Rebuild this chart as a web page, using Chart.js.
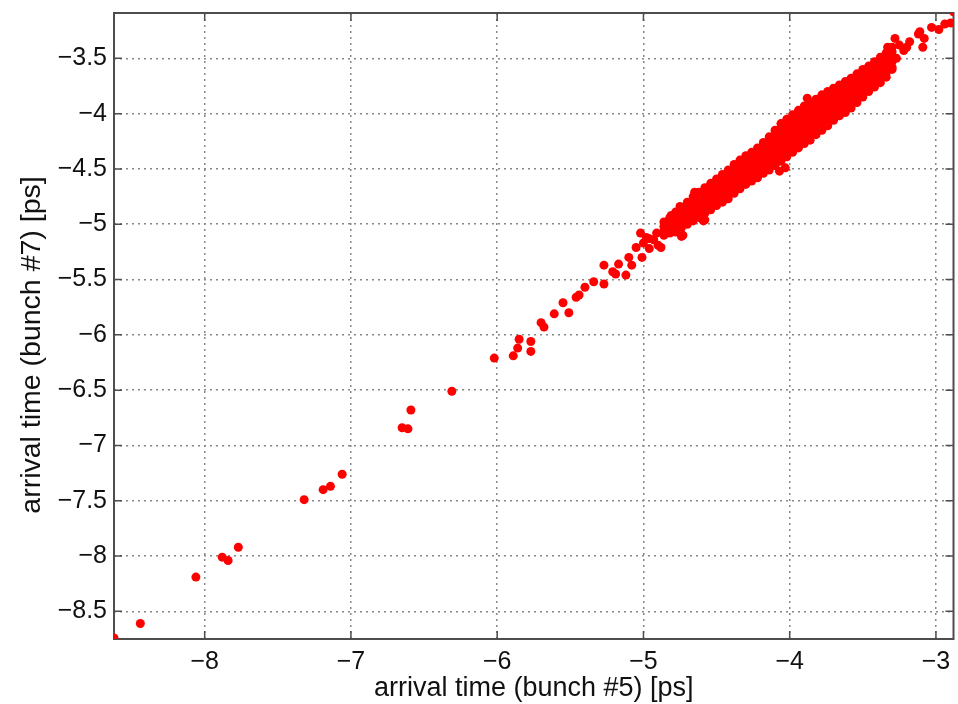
<!DOCTYPE html>
<html>
<head>
<meta charset="utf-8">
<script src="https://cdn.jsdelivr.net/npm/chart.js@4.4.1/dist/chart.umd.min.js"></script>
<style>
  html, body { margin: 0; padding: 0; background: #fff; }
</style>
</head>
<body>
<canvas id="c" width="958" height="704"></canvas>
<script>
// axis ranges and tick values
const xRange = [-8.62, -2.88];
const yRange = [-8.75, -3.09];
const xTicks = [-8, -7, -6, -5, -4, -3];
const yTicks = [-8.5, -8, -7.5, -7, -6.5, -6, -5.5, -5, -4.5, -4, -3.5];
const xLabel = 'arrival time (bunch #5) [ps]';
const yLabel = 'arrival time (bunch #7) [ps]';

// isolated shots below the main cloud [bunch5, bunch7]
const tailPoints = [
  [-8.62, -8.74], [-8.44, -8.61], [-8.06, -8.19], [-7.88, -8.01], [-7.84, -8.04], [-7.77, -7.92],
  [-7.32, -7.49], [-7.19, -7.40], [-7.14, -7.37], [-7.06, -7.26],
  [-6.65, -6.84], [-6.61, -6.85], [-6.59, -6.68], [-6.31, -6.51],
  [-6.02, -6.21], [-5.89, -6.19], [-5.86, -6.12], [-5.85, -6.04], [-5.77, -6.06], [-5.77, -6.15],
  [-5.70, -5.89], [-5.68, -5.93], [-5.61, -5.81], [-5.55, -5.71], [-5.51, -5.80],
  [-5.46, -5.66], [-5.44, -5.64], [-5.40, -5.57], [-5.34, -5.52], [-5.27, -5.54], [-5.27, -5.37],
  [-5.21, -5.43], [-5.19, -5.45], [-5.17, -5.36], [-5.12, -5.46], [-5.10, -5.30], [-5.08, -5.37],
  [-5.05, -5.21], [-5.02, -5.08], [-5.01, -5.30]
];

// dense cloud, read column by column: [bunch5, [bunch7 values]]
const cloudColumns = [
  [-4.86, [-4.98, -5.02, -5.06, -5.10]],
  [-4.82, [-4.94, -4.98, -5.03, -5.08]],
  [-4.78, [-4.89, -4.93, -4.98, -5.02, -5.07]],
  [-4.74, [-4.85, -4.89, -4.94, -4.98, -5.03]],
  [-4.70, [-4.80, -4.84, -4.89, -4.93, -4.98, -5.00]],
  [-4.66, [-4.75, -4.79, -4.84, -4.88, -4.93, -4.97]],
  [-4.62, [-4.71, -4.75, -4.80, -4.84, -4.89, -4.94]],
  [-4.58, [-4.67, -4.71, -4.76, -4.80, -4.85, -4.90]],
  [-4.54, [-4.63, -4.67, -4.72, -4.76, -4.81, -4.87]],
  [-4.50, [-4.59, -4.63, -4.68, -4.72, -4.77, -4.83]],
  [-4.46, [-4.55, -4.59, -4.64, -4.68, -4.73, -4.77, -4.80]],
  [-4.42, [-4.51, -4.55, -4.60, -4.64, -4.69, -4.73, -4.77]],
  [-4.38, [-4.46, -4.50, -4.55, -4.59, -4.64, -4.68, -4.72]],
  [-4.34, [-4.42, -4.46, -4.51, -4.55, -4.60, -4.64, -4.68]],
  [-4.30, [-4.38, -4.42, -4.47, -4.51, -4.56, -4.60, -4.64]],
  [-4.26, [-4.35, -4.39, -4.44, -4.48, -4.53, -4.57, -4.61]],
  [-4.22, [-4.31, -4.35, -4.40, -4.44, -4.49, -4.53, -4.58]],
  [-4.18, [-4.26, -4.30, -4.35, -4.39, -4.44, -4.48, -4.54]],
  [-4.14, [-4.21, -4.25, -4.30, -4.34, -4.39, -4.43, -4.47, -4.51]],
  [-4.10, [-4.15, -4.19, -4.24, -4.28, -4.33, -4.37, -4.42, -4.47]],
  [-4.06, [-4.09, -4.13, -4.18, -4.22, -4.27, -4.31, -4.36, -4.43]],
  [-4.02, [-4.05, -4.09, -4.14, -4.18, -4.23, -4.27, -4.32, -4.36, -4.39]],
  [-3.98, [-4.01, -4.05, -4.10, -4.14, -4.19, -4.23, -4.28, -4.32, -4.35]],
  [-3.94, [-3.97, -4.01, -4.06, -4.10, -4.15, -4.19, -4.24, -4.28, -4.31]],
  [-3.90, [-3.93, -3.97, -4.02, -4.06, -4.11, -4.15, -4.20, -4.24, -4.27]],
  [-3.86, [-3.90, -3.94, -3.99, -4.03, -4.08, -4.12, -4.17, -4.21, -4.24]],
  [-3.82, [-3.87, -3.91, -3.96, -4.00, -4.05, -4.09, -4.14, -4.19]],
  [-3.78, [-3.83, -3.87, -3.92, -3.96, -4.01, -4.05, -4.10, -4.15]],
  [-3.74, [-3.80, -3.84, -3.89, -3.93, -3.98, -4.02, -4.07, -4.11]],
  [-3.70, [-3.77, -3.81, -3.86, -3.90, -3.95, -3.99, -4.04, -4.06]],
  [-3.66, [-3.74, -3.78, -3.83, -3.87, -3.92, -3.96, -4.02]],
  [-3.62, [-3.71, -3.75, -3.80, -3.84, -3.89, -3.93, -3.99]],
  [-3.58, [-3.68, -3.72, -3.77, -3.81, -3.86, -3.90, -3.95]],
  [-3.54, [-3.64, -3.68, -3.73, -3.77, -3.82, -3.86, -3.90]],
  [-3.50, [-3.60, -3.64, -3.69, -3.73, -3.78, -3.82, -3.85]],
  [-3.46, [-3.57, -3.61, -3.66, -3.70, -3.75, -3.80]],
  [-3.42, [-3.53, -3.57, -3.62, -3.66, -3.71, -3.76]],
  [-3.38, [-3.49, -3.53, -3.58, -3.62, -3.67, -3.72]],
  [-3.34, [-3.45, -3.49, -3.54, -3.58, -3.63, -3.67]],
  [-3.30, [-3.40, -3.44, -3.49, -3.53, -3.58, -3.60]]
];

// loose points around the edges of the cloud
const edgePoints = [
  [-5.00, -5.17], [-4.96, -5.22], [-4.93, -5.14], [-4.98, -5.12], [-4.90, -5.19], [-4.96, -5.13],
  [-4.91, -5.08], [-4.88, -5.21], [-4.83, -5.02], [-4.81, -4.92], [-4.75, -4.84], [-4.74, -5.11],
  [-4.73, -5.10], [-4.69, -4.93], [-4.65, -4.71], [-4.59, -4.97], [-4.58, -4.96],
  [-4.07, -4.52], [-4.03, -4.49], [-3.88, -3.86],
  [-3.33, -3.40], [-3.28, -3.32], [-3.27, -3.50], [-3.25, -3.38], [-3.22, -3.43], [-3.20, -3.40],
  [-3.18, -3.35], [-3.12, -3.28], [-3.11, -3.26], [-3.09, -3.40], [-3.08, -3.32], [-3.03, -3.22],
  [-2.98, -3.24], [-2.94, -3.19], [-2.90, -3.18], [-2.88, -3.08]
];

const cloudPoints = [];
cloudColumns.forEach(([x, ys]) => ys.forEach(y => cloudPoints.push([x, y])));
const allPoints = tailPoints.concat(cloudPoints, edgePoints).map(([x, y]) => ({ x, y }));

const FONT = '"Liberation Sans", Arial, Helvetica, sans-serif';
const fmt = v => (v < 0 ? '\u2212' + Math.abs(v) : String(v));

// box around the axes with inward tick marks (matlab style)
const frame = {
  id: 'frame',
  beforeDatasetsDraw(chart) {
    const { ctx, chartArea: a, scales: { x, y } } = chart;
    ctx.save();
    ctx.strokeStyle = '#4d4d4d';
    ctx.lineWidth = 1.5;
    ctx.beginPath();
    x.ticks.forEach(t => {
      const px = x.getPixelForValue(t.value);
      ctx.moveTo(px, a.bottom); ctx.lineTo(px, a.bottom - 8);
      ctx.moveTo(px, a.top); ctx.lineTo(px, a.top + 8);
    });
    y.ticks.forEach(t => {
      const py = y.getPixelForValue(t.value);
      ctx.moveTo(a.left, py); ctx.lineTo(a.left + 8, py);
      ctx.moveTo(a.right, py); ctx.lineTo(a.right - 8, py);
    });
    ctx.stroke();
    ctx.lineWidth = 2;
    ctx.strokeRect(a.left, a.top, a.right - a.left, a.bottom - a.top);
    ctx.restore();
  },
  afterDraw(chart) {
    // y axis title, centred a little below the middle as in the original
    const ctx = chart.ctx;
    ctx.save();
    ctx.translate(32, 345);
    ctx.rotate(-Math.PI / 2);
    ctx.font = '28.5px ' + FONT;
    ctx.fillStyle = '#111';
    ctx.textAlign = 'center';
    ctx.textBaseline = 'middle';
    ctx.fillText(yLabel, 0, 0);
    ctx.restore();
  }
};

new Chart(document.getElementById('c'), {
  type: 'scatter',
  data: {
    datasets: [{
      data: allPoints,
      pointStyle: 'circle',
      pointRadius: 4.5,
      pointBorderWidth: 0,
      backgroundColor: '#ff0000',
      borderColor: '#ff0000'
    }]
  },
  options: {
    responsive: false,
    animation: false,
    devicePixelRatio: 1,
    layout: { padding: { top: 13, right: 2, left: 0, bottom: 0 } },
    plugins: { legend: { display: false }, tooltip: { enabled: false } },
    scales: {
      x: {
        type: 'linear',
        min: xRange[0],
        max: xRange[1],
        afterBuildTicks: s => { s.ticks = xTicks.map(v => ({ value: v })); },
        afterFit: s => { s.height = 65; s.paddingLeft = 0; s.paddingRight = 0; },
        grid: { color: '#888', lineWidth: 1.5, drawTicks: false },
        border: { display: false, dash: [2, 4] },
        ticks: { padding: 8, color: '#111', font: { family: FONT, size: 25 }, callback: fmt, maxRotation: 0 },
        title: {
          display: true,
          text: xLabel,
          color: '#111',
          font: { family: FONT, size: 27, lineHeight: 1.1 },
          padding: { top: 0, bottom: 1 }
        }
      },
      y: {
        type: 'linear',
        min: yRange[0],
        max: yRange[1],
        afterBuildTicks: s => { s.ticks = yTicks.map(v => ({ value: v })); },
        afterFit: s => { s.width = 114; s.paddingTop = 0; s.paddingBottom = 0; },
        grid: { color: '#888', lineWidth: 1.5, drawTicks: false },
        border: { display: false, dash: [2, 4] },
        ticks: { padding: 7, color: '#111', font: { family: FONT, size: 25 }, callback: fmt }
      }
    }
  },
  plugins: [frame]
});
</script>
</body>
</html>
